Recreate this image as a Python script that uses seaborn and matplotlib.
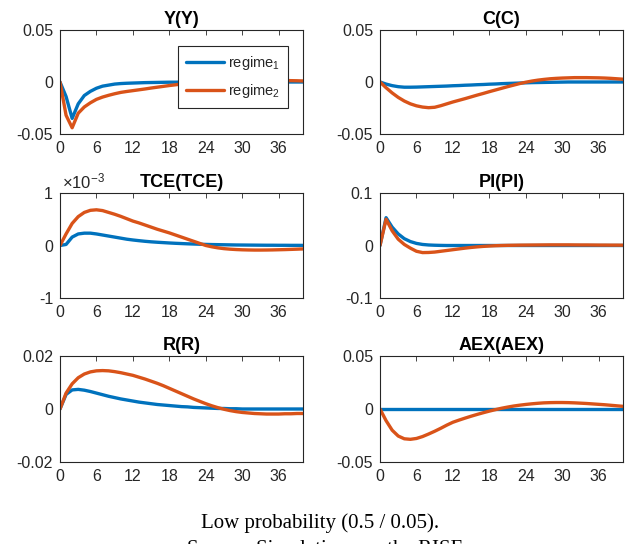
import numpy as np
import pandas as pd
import matplotlib
matplotlib.use("Agg")
import matplotlib.pyplot as plt
import matplotlib.ticker as mticker
import seaborn as sns

# ---------------- data ----------------
periods = list(range(41))

y_reg1 = [0, -0.014, -0.035, -0.021, -0.013, -0.009, -0.006, -0.004, -0.003, -0.002, -0.0015,
          -0.0012, -0.001, -0.0008, -0.0006, -0.0005, -0.0004, -0.0003, -0.0002, -0.0002, -0.0001,
          0, 0, 0, 0, 0, 0, 0, 0, 0, 0, 0, 0, 0, 0, 0, 0, 0, 0, 0, 0]
y_reg2 = [0, -0.032, -0.044, -0.030, -0.024, -0.020, -0.0167, -0.0145, -0.0128, -0.0113, -0.0100,
          -0.0091, -0.0083, -0.0075, -0.0067, -0.0058, -0.0050, -0.0042, -0.0034, -0.0027, -0.0020,
          -0.0014, -0.0009, -0.0004, 0.0, 0.0004, 0.0008, 0.0011, 0.0014, 0.0016, 0.0018,
          0.0019, 0.0019, 0.0019, 0.0018, 0.0017, 0.0016, 0.0015, 0.0013, 0.0012, 0.0010]

c_reg1 = [0, -0.002, -0.0035, -0.0045, -0.005, -0.005, -0.0049, -0.0047, -0.0045, -0.0043, -0.0041,
          -0.0039, -0.0036, -0.0034, -0.0031, -0.0029, -0.0026, -0.0024, -0.0021, -0.0019, -0.0016,
          -0.0014, -0.0012, -0.001, -0.0008, -0.0006, -0.0005, -0.0004, -0.0003, -0.0002, -0.0001,
          0, 0, 0, 0, 0, 0, 0, 0, 0, 0]
c_reg2 = [0, -0.0055, -0.0105, -0.0148, -0.0183, -0.021, -0.0229, -0.0241, -0.0247, -0.0243, -0.0228,
          -0.021, -0.0192, -0.0176, -0.016, -0.0143, -0.0126, -0.011, -0.0093, -0.0077, -0.0061,
          -0.0045, -0.003, -0.0015, -0.0002, 0.0009, 0.0018, 0.0025, 0.0031, 0.0035, 0.0038,
          0.004, 0.0042, 0.0042, 0.0042, 0.0041, 0.004, 0.0038, 0.0035, 0.0031, 0.0027]

tce_reg1 = [0, 0.02e-3, 0.16e-3, 0.22e-3, 0.235e-3, 0.235e-3, 0.22e-3, 0.20e-3, 0.18e-3, 0.16e-3, 0.14e-3,
            0.12e-3, 0.105e-3, 0.092e-3, 0.08e-3, 0.07e-3, 0.062e-3, 0.055e-3, 0.048e-3, 0.042e-3, 0.037e-3,
            0.032e-3, 0.028e-3, 0.024e-3, 0.021e-3, 0.018e-3, 0.016e-3, 0.014e-3, 0.012e-3, 0.010e-3, 0.009e-3,
            0.008e-3, 0.007e-3, 0.006e-3, 0.005e-3, 0.005e-3, 0.004e-3, 0.004e-3, 0.003e-3, 0.003e-3, 0.002e-3]
tce_reg2 = [0, 0.22e-3, 0.42e-3, 0.55e-3, 0.63e-3, 0.67e-3, 0.68e-3, 0.665e-3, 0.63e-3, 0.595e-3, 0.555e-3,
            0.51e-3, 0.465e-3, 0.43e-3, 0.39e-3, 0.35e-3, 0.31e-3, 0.275e-3, 0.24e-3, 0.20e-3, 0.16e-3,
            0.12e-3, 0.08e-3, 0.04e-3, 0.0, -0.025e-3, -0.045e-3, -0.06e-3, -0.07e-3, -0.077e-3, -0.082e-3,
            -0.085e-3, -0.087e-3, -0.087e-3, -0.086e-3, -0.084e-3, -0.081e-3, -0.078e-3, -0.074e-3, -0.07e-3, -0.065e-3]

pi_reg1 = [0, 0.053, 0.035, 0.022, 0.013, 0.0075, 0.004, 0.002, 0.001, 0.0005, 0.0002,
           0, 0, 0, 0, 0, 0, 0, 0, 0, 0, 0, 0, 0, 0, 0, 0, 0, 0, 0, 0,
           0, 0, 0, 0, 0, 0, 0, 0, 0, 0]
pi_reg2 = [0, 0.050, 0.028, 0.012, 0.002, -0.005, -0.011, -0.0135, -0.0133, -0.0125, -0.011,
           -0.0095, -0.008, -0.0065, -0.005, -0.0037, -0.0026, -0.0017, -0.001, -0.0004, 0.0,
           0.0003, 0.0005, 0.0007, 0.0008, 0.0009, 0.001, 0.0011, 0.0012, 0.0012, 0.0012,
           0.0012, 0.0011, 0.001, 0.001, 0.0009, 0.0008, 0.0008, 0.0007, 0.0007, 0.0006]

r_reg1 = [0, 0.0055, 0.0072, 0.0074, 0.0071, 0.0066, 0.006, 0.0054, 0.0048, 0.0043, 0.0038,
          0.0034, 0.003, 0.0026, 0.0023, 0.002, 0.0017, 0.0015, 0.0013, 0.0011, 0.0009,
          0.0008, 0.0006, 0.0005, 0.0004, 0.0003, 0.0002, 0.0002, 0.0001, 0.0001, 0,
          0, 0, 0, 0, 0, 0, 0, 0, 0, 0]
r_reg2 = [0, 0.006, 0.0095, 0.0118, 0.0132, 0.014, 0.0144, 0.0145, 0.0144, 0.0141, 0.0137,
          0.0132, 0.0127, 0.012, 0.0113, 0.0105, 0.0097, 0.0088, 0.0078, 0.0068, 0.0058,
          0.0048, 0.0038, 0.0029, 0.002, 0.0012, 0.0005, -0.0001, -0.0006, -0.001, -0.0013,
          -0.0015, -0.0017, -0.0018, -0.0019, -0.0019, -0.0019, -0.0018, -0.0018, -0.0017, -0.0017]

aex_reg1 = [0] * 41
aex_reg2 = [0, -0.011, -0.02, -0.0255, -0.0281, -0.0286, -0.0278, -0.026, -0.0236, -0.021, -0.0182,
            -0.0152, -0.0125, -0.0105, -0.0086, -0.0068, -0.0051, -0.0035, -0.002, -0.0006, 0.0007,
            0.0018, 0.0028, 0.0036, 0.0043, 0.0049, 0.0054, 0.0058, 0.006, 0.0061, 0.0061,
            0.006, 0.0058, 0.0055, 0.0052, 0.0048, 0.0044, 0.004, 0.0035, 0.003, 0.0025]

titles = ["Y(Y)", "C(C)", "TCE(TCE)", "PI(PI)", "R(R)", "AEX(AEX)"]
series = [(y_reg1, y_reg2), (c_reg1, c_reg2), (tce_reg1, tce_reg2),
          (pi_reg1, pi_reg2), (r_reg1, r_reg2), (aex_reg1, aex_reg2)]
ylims = [0.05, 0.05, 1e-3, 0.1, 0.02, 0.05]
ytick_labels = [["-0.05", "0", "0.05"], ["-0.05", "0", "0.05"], ["-1", "0", "1"],
                ["-0.1", "0", "0.1"], ["-0.02", "0", "0.02"], ["-0.05", "0", "0.05"]]
xtick_vals = [0, 6, 12, 18, 24, 30, 36]
legend_labels = ["regime$_1$", "regime$_2$"]
caption_lines = ["Low probability (0.5 / 0.05).", "Source: Simulations on the RISE."]

# ---------------- style ----------------
sns.set_theme(style="white")
plt.rcParams["font.family"] = ["Liberation Sans", "DejaVu Sans"]
plt.rcParams["axes.unicode_minus"] = False
plt.rcParams["mathtext.fontset"] = "custom"
plt.rcParams["mathtext.rm"] = "Liberation Sans"
plt.rcParams["mathtext.it"] = "Liberation Sans"

blue = "#0072BD"
orange = "#D95319"
dark = "#262626"

fig = plt.figure(figsize=(6.31, 5.44), dpi=100)
W, H = 631, 544
col_x = [60, 380]
ax_w = 243
row_y = [(30, 134), (193, 298), (356, 462)]

for i, (title, (s1, s2)) in enumerate(zip(titles, series)):
    r, c = divmod(i, 2)
    top, bot = row_y[r]
    ax = fig.add_axes([col_x[c] / W, 1 - bot / H, ax_w / W, (bot - top) / H])
    df = pd.DataFrame({"t": periods, "r1": s1, "r2": s2})
    sns.lineplot(data=df, x="t", y="r1", ax=ax, color=blue, linewidth=2.4,
                 label=legend_labels[0] if i == 0 else None, legend=False)
    sns.lineplot(data=df, x="t", y="r2", ax=ax, color=orange, linewidth=2.4,
                 label=legend_labels[1] if i == 0 else None, legend=False)
    lim = ylims[i]
    ax.set_xlim(0, 40)
    ax.set_ylim(-lim, lim)
    ax.set_xticks(xtick_vals)
    ax.set_xticklabels([str(v) for v in xtick_vals])
    ax.set_yticks([-lim, 0, lim])
    ax.set_yticklabels(ytick_labels[i])
    ax.set_xlabel("")
    ax.set_ylabel("")
    ax.set_title(title, fontsize=13, fontweight="bold", color="black", pad=4)
    ax.tick_params(direction="in", length=3.5, width=0.6, top=True, right=True,
                   labelsize=11.5, colors=dark, pad=5)
    for sp in ax.spines.values():
        sp.set_visible(True)
        sp.set_color(dark)
        sp.set_linewidth(0.8)
    if i == 2:
        ax.text(0.01, 1.02, r"$\times10^{-3}$", transform=ax.transAxes, fontsize=12,
                color=dark, ha="left", va="bottom")
    if i == 0:
        leg = ax.legend(loc="upper left", bbox_to_anchor=(178 / W, 1 - 46 / H),
                        bbox_transform=fig.transFigure, borderaxespad=0.0,
                        fontsize=10.5, frameon=True,
                        fancybox=False, framealpha=1, edgecolor=dark, handlelength=2.6,
                        borderpad=0.55, labelspacing=0.7, handletextpad=0.3)
        leg.get_frame().set_linewidth(0.8)

fig.text(0.507, 1 - 523 / H, caption_lines[0], ha="center", va="center",
         fontsize=15, family="Liberation Serif", color="black")
fig.text(0.52, 1 - 550 / H, caption_lines[1], ha="center", va="center",
         fontsize=15, family="Liberation Serif", color="black")

fig.savefig("out.png", dpi=100, facecolor="white")
